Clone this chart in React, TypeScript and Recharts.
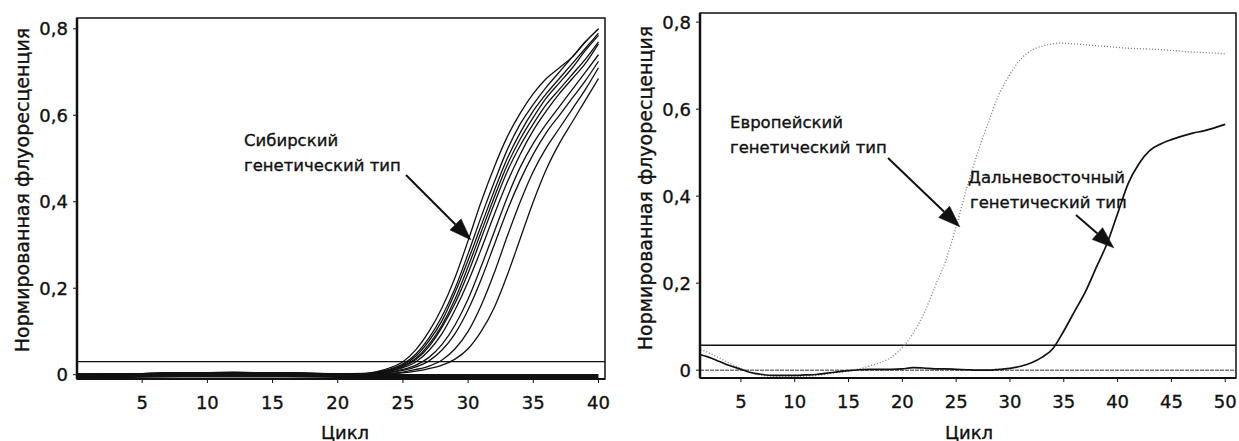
import { LineChart, Line, XAxis, YAxis, ReferenceLine, ReferenceArea } from 'recharts'

const FONT = '"DejaVu Sans", "Liberation Sans", Arial, sans-serif'

// left panel - siberian genetic type, 10 samples
const L_CYCLES = [0, 4, 8, 12, 16, 20, 22, 23, 24, 25, 26, 27, 28, 29, 30, 31, 32, 33, 34, 35, 36, 37, 38, 39, 40]
const SIB_1 = [0.001, 0.002, 0.004, 0.005, 0.004, 0.002, 0.003, 0.007, 0.016, 0.03, 0.058, 0.1, 0.155, 0.225, 0.31, 0.4, 0.48, 0.55, 0.605, 0.65, 0.685, 0.71, 0.735, 0.77, 0.8]
const SIB_2 = [0.001, 0.002, 0.004, 0.004, 0.004, 0.002, 0.002, 0.006, 0.013, 0.025, 0.048, 0.085, 0.135, 0.2, 0.28, 0.365, 0.445, 0.52, 0.58, 0.625, 0.665, 0.7, 0.735, 0.77, 0.8]
const SIB_3 = [0, 0.002, 0.003, 0.005, 0.003, 0.002, 0.002, 0.005, 0.011, 0.022, 0.043, 0.078, 0.125, 0.19, 0.265, 0.345, 0.425, 0.5, 0.56, 0.61, 0.65, 0.685, 0.72, 0.755, 0.79]
const SIB_4 = [0.001, 0.001, 0.004, 0.004, 0.004, 0.001, 0.002, 0.004, 0.01, 0.02, 0.038, 0.07, 0.115, 0.175, 0.25, 0.33, 0.41, 0.485, 0.545, 0.595, 0.64, 0.675, 0.71, 0.75, 0.785]
const SIB_5 = [0, 0.002, 0.003, 0.004, 0.003, 0.001, 0.001, 0.004, 0.009, 0.018, 0.035, 0.065, 0.11, 0.165, 0.235, 0.315, 0.395, 0.47, 0.53, 0.58, 0.625, 0.66, 0.695, 0.73, 0.77]
const SIB_6 = [0.001, 0.002, 0.004, 0.005, 0.004, 0.002, 0.001, 0.003, 0.008, 0.016, 0.03, 0.056, 0.095, 0.15, 0.215, 0.29, 0.37, 0.445, 0.51, 0.565, 0.61, 0.65, 0.685, 0.72, 0.765]
const SIB_7 = [0, 0.001, 0.003, 0.004, 0.003, 0.001, 0.001, 0.002, 0.006, 0.012, 0.022, 0.04, 0.07, 0.115, 0.175, 0.25, 0.33, 0.41, 0.48, 0.535, 0.58, 0.62, 0.66, 0.7, 0.74]
const SIB_8 = [0.001, 0.002, 0.003, 0.004, 0.004, 0.002, 0.001, 0.002, 0.005, 0.01, 0.018, 0.032, 0.057, 0.095, 0.15, 0.22, 0.3, 0.38, 0.45, 0.51, 0.56, 0.6, 0.64, 0.68, 0.725]
const SIB_9 = [0, 0.001, 0.003, 0.004, 0.003, 0.001, 0, 0.001, 0.003, 0.006, 0.012, 0.02, 0.034, 0.06, 0.1, 0.16, 0.235, 0.32, 0.4, 0.47, 0.525, 0.57, 0.615, 0.66, 0.71]
const SIB_10 = [0.001, 0.002, 0.004, 0.004, 0.003, 0.001, 0, 0.001, 0.002, 0.004, 0.008, 0.014, 0.022, 0.036, 0.06, 0.1, 0.155, 0.23, 0.315, 0.4, 0.475, 0.535, 0.585, 0.635, 0.685]
const NEG_L = [-0.003, -0.003, -0.002, -0.002, -0.002, -0.003, -0.003, -0.003, -0.003, -0.003, -0.003, -0.003, -0.003, -0.003, -0.003, -0.003, -0.003, -0.003, -0.003, -0.003, -0.003, -0.003, -0.003, -0.003, -0.003]
const SIB = [SIB_1, SIB_2, SIB_3, SIB_4, SIB_5, SIB_6, SIB_7, SIB_8, SIB_9, SIB_10]

const L_X_TICKS = [5, 10, 15, 20, 25, 30, 35, 40]
const L_THRESHOLD = 0.03

// right panel - european vs far-eastern type
const R_CYCLES = [1, 2, 3, 4, 5, 6, 7, 8, 9, 10, 11, 12, 13, 14, 15, 16, 17, 18, 19, 20, 21, 22, 23, 24, 25, 26, 27, 28, 29, 30, 31, 32, 33, 34, 35, 36, 37, 38, 39, 40, 41, 42, 43, 44, 45, 46, 47, 48, 49, 50]
const EURO = [0.05, 0.04, 0.028, 0.015, 0.004, -0.006, -0.012, -0.014, -0.015, -0.015, -0.014, -0.012, -0.009, -0.005, -0.002, 0.003, 0.01, 0.018, 0.03, 0.052, 0.085, 0.13, 0.19, 0.25, 0.33, 0.42, 0.5, 0.57, 0.635, 0.68, 0.715, 0.735, 0.745, 0.75, 0.752, 0.75, 0.748, 0.746, 0.744, 0.742, 0.74, 0.739, 0.738, 0.737, 0.735, 0.733, 0.731, 0.73, 0.729, 0.727]
const FAREAST = [0.037, 0.03, 0.02, 0.01, 0.002, -0.006, -0.01, -0.012, -0.012, -0.012, -0.011, -0.01, -0.007, -0.004, -0.001, 0.001, 0.002, 0.002, 0.002, 0.003, 0.006, 0.005, 0.003, 0.003, 0.002, 0.001, 0, 0, 0.002, 0.004, 0.009, 0.017, 0.03, 0.05, 0.09, 0.135, 0.18, 0.235, 0.29, 0.36, 0.43, 0.475, 0.505, 0.52, 0.53, 0.538, 0.545, 0.55, 0.557, 0.565]

const R_X_TICKS = [5, 10, 15, 20, 25, 30, 35, 40, 45, 50]
const R_THRESHOLD = 0.057

const Y_TICKS = [0, 0.2, 0.4, 0.6, 0.8]

const leftData = L_CYCLES.map((c, i) => {
  const row: Record<string, number> = { cycle: c, neg: NEG_L[i] }
  SIB.forEach((s, k) => { row['s' + k] = s[i] })
  return row
})

const rightData = R_CYCLES.map((c, i) => ({ cycle: c, euro: EURO[i], fareast: FAREAST[i] }))

const fmtY = (v: number) => (v === 0 ? '0' : v.toFixed(1).replace('.', ','))
const tickStyle = { fontSize: 18, fill: '#111', stroke: '#111', strokeWidth: 0.35, fontFamily: FONT }

function Arrow({ x1, y1, x2, y2 }: { x1: number; y1: number; x2: number; y2: number }) {
  const len = Math.hypot(x2 - x1, y2 - y1)
  const ux = (x2 - x1) / len
  const uy = (y2 - y1) / len
  const bx = x2 - ux * 22
  const by = y2 - uy * 22
  const px = -uy * 8
  const py = ux * 8
  return (
    <g>
      <line x1={x1} y1={y1} x2={bx} y2={by} stroke="#111" strokeWidth={2} />
      <polygon points={`${x2},${y2} ${bx + px},${by + py} ${bx - px},${by - py}`} fill="#111" />
    </g>
  )
}

export default function App() {
  const L_DOM: [number, number] = [0, 40.5]
  const L_YDOM: [number, number] = [-0.01, 0.825]
  const R_DOM: [number, number] = [1.2, 51]
  const R_YDOM: [number, number] = [-0.018, 0.821]

  return (
    <div style={{ position: 'absolute', left: 0, top: 0, width: 1239, height: 441, background: '#fff', fontFamily: FONT }}>
      <div style={{ position: 'absolute', left: 0, top: 0 }}>
        <LineChart width={620} height={441} data={leftData} margin={{ top: 18, right: 15, bottom: 32, left: 37 }}>
          <XAxis
            dataKey="cycle"
            type="number"
            domain={L_DOM}
            ticks={L_X_TICKS}
            allowDataOverflow
            height={30}
            tick={tickStyle}
            tickSize={4}
            tickMargin={13}
            axisLine={{ stroke: '#111', strokeWidth: 2 }}
            tickLine={{ stroke: '#111' }}
          />
          <YAxis
            type="number"
            domain={L_YDOM}
            ticks={Y_TICKS}
            allowDataOverflow
            width={40}
            tick={tickStyle}
            tickFormatter={fmtY}
            tickSize={4}
            tickMargin={5}
            axisLine={{ stroke: '#111', strokeWidth: 2.5 }}
            tickLine={{ stroke: '#111' }}
          />
          <ReferenceArea x1={L_DOM[0]} x2={L_DOM[1]} y1={L_YDOM[0]} y2={L_YDOM[1]} fill="none" stroke="#111" strokeWidth={1.5} fillOpacity={0} />
          <ReferenceLine y={L_THRESHOLD} stroke="#111" strokeWidth={1.3} />
          <Line dataKey="neg" stroke="#111" strokeWidth={4} dot={false} isAnimationActive={false} type="monotone" />
          {SIB.map((_, k) => (
            <Line key={k} dataKey={'s' + k} stroke="#111" strokeWidth={1.3} dot={false} isAnimationActive={false} type="monotone" />
          ))}
        </LineChart>
      </div>
      <div style={{ position: 'absolute', left: 620, top: 0 }}>
        <LineChart width={619} height={441} data={rightData} margin={{ top: 13, right: 3, bottom: 33, left: 40 }}>
          <XAxis
            dataKey="cycle"
            type="number"
            domain={R_DOM}
            ticks={R_X_TICKS}
            allowDataOverflow
            height={30}
            tick={tickStyle}
            tickSize={4}
            tickMargin={13}
            axisLine={{ stroke: '#111', strokeWidth: 2 }}
            tickLine={{ stroke: '#111' }}
          />
          <YAxis
            type="number"
            domain={R_YDOM}
            ticks={Y_TICKS}
            allowDataOverflow
            width={40}
            tick={tickStyle}
            tickFormatter={fmtY}
            tickSize={4}
            tickMargin={5}
            axisLine={{ stroke: '#111', strokeWidth: 2.5 }}
            tickLine={{ stroke: '#111' }}
          />
          <ReferenceArea x1={R_DOM[0]} x2={R_DOM[1]} y1={R_YDOM[0]} y2={R_YDOM[1]} fill="none" stroke="#111" strokeWidth={1.5} fillOpacity={0} />
          <ReferenceLine y={R_THRESHOLD} stroke="#111" strokeWidth={1.5} />
          <ReferenceLine y={0} stroke="#333" strokeWidth={1} strokeDasharray="4 1" />
          <Line dataKey="euro" stroke="#777" strokeWidth={1.3} strokeDasharray="1 2" dot={false} isAnimationActive={false} type="monotone" />
          <Line dataKey="fareast" stroke="#111" strokeWidth={1.7} dot={false} isAnimationActive={false} type="monotone" />
        </LineChart>
      </div>
      <svg width={1239} height={441} style={{ position: 'absolute', left: 0, top: 0, pointerEvents: 'none' }} fontFamily={FONT} fill="#111" stroke="#111" strokeWidth={0.35}>
        <text x={22} y={190} fontSize={19} textAnchor="middle" dominantBaseline="central" transform="rotate(-90 22 190)">Нормированная флуоресценция</text>
        <text x={645} y={188} fontSize={19} textAnchor="middle" dominantBaseline="central" transform="rotate(-90 645 188)">Нормированная флуоресценция</text>
        <text x={345} y={432} fontSize={18} textAnchor="middle" dominantBaseline="central">Цикл</text>
        <text x={969} y={432} fontSize={18} textAnchor="middle" dominantBaseline="central">Цикл</text>

        <text x={244} y={146} fontSize={16.5}>Сибирский</text>
        <text x={244} y={171} fontSize={16.5}>генетический тип</text>
        <Arrow x1={406} y1={175} x2={471} y2={240} />

        <text x={730} y={128} fontSize={16.5}>Европейский</text>
        <text x={730} y={153} fontSize={16.5}>генетический тип</text>
        <Arrow x1={888} y1={158} x2={960} y2={227} />

        <text x={968} y={183} fontSize={16.5}>Дальневосточный</text>
        <text x={970} y={208} fontSize={16.5}>генетический тип</text>
        <Arrow x1={1076} y1={215} x2={1114} y2={248} />
      </svg>
    </div>
  )
}
